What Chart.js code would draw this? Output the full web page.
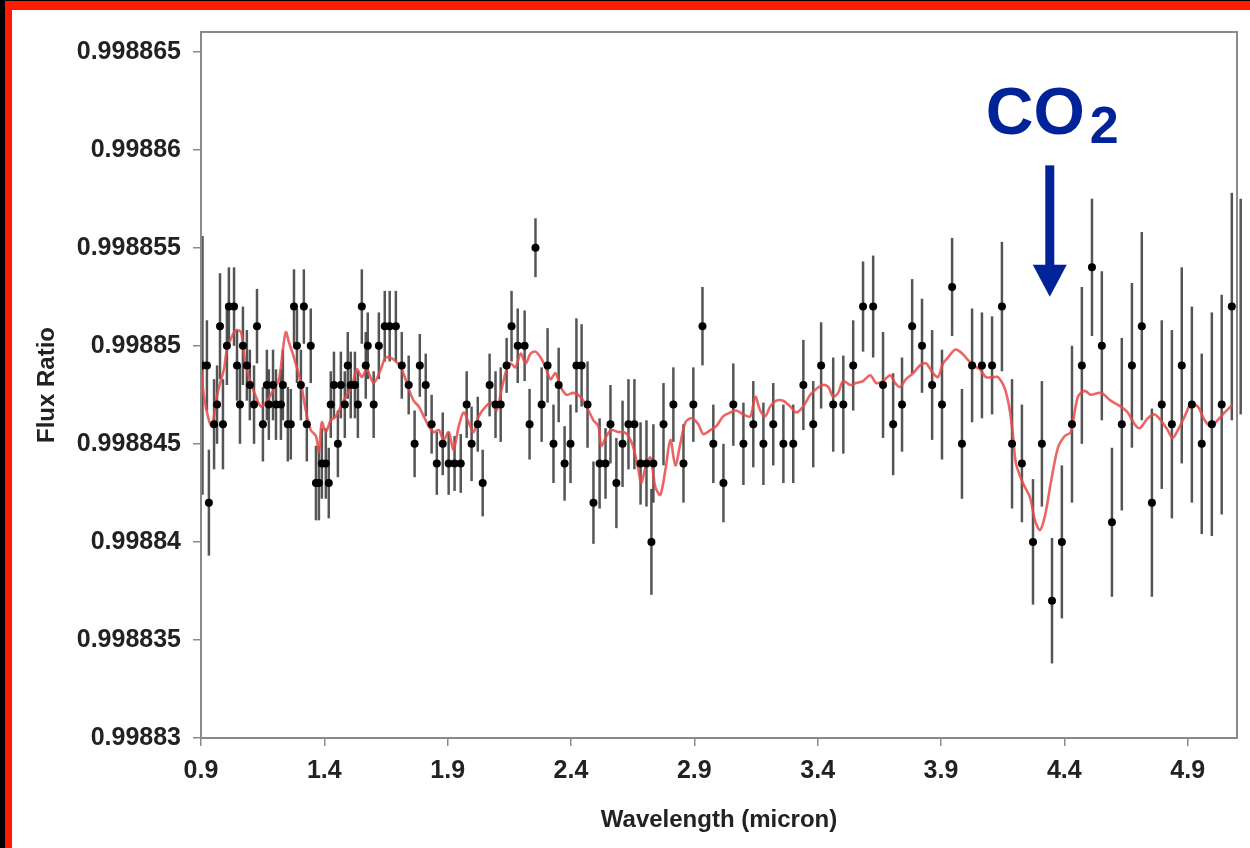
<!DOCTYPE html>
<html>
<head>
<meta charset="utf-8">
<script src="https://cdn.jsdelivr.net/npm/chart.js@4.4.0/dist/chart.umd.min.js"></script>
<style>
  html, body { margin: 0; padding: 0; background: #000; }
  #frame { position: absolute; left: 5px; top: 1px; width: 1245px; height: 847px; background: #fff;
           border-top: 9px solid #ff1a00; border-left: 7px solid #ff1a00; box-sizing: border-box; }
  #wrap { position: absolute; left: 0; top: 0; width: 1250px; height: 848px; }
</style>
</head>
<body>
<div id="frame"></div>
<div id="wrap"><canvas id="chart-1" width="1250" height="848"></canvas></div>
<script>
// measured points (micron, flux ratio, 1-sigma error in ppm)
const wavelength = [
  0.906, 0.924, 0.932, 0.953, 0.965, 0.977, 0.989, 1.005, 1.013, 1.034,
  1.046, 1.058, 1.070, 1.086, 1.098, 1.115, 1.127, 1.151, 1.167, 1.175,
  1.192, 1.204, 1.224, 1.232, 1.252, 1.264, 1.277, 1.289, 1.305, 1.317,
  1.329, 1.345, 1.366, 1.378, 1.390, 1.406, 1.418, 1.426, 1.439, 1.455,
  1.467, 1.483, 1.495, 1.507, 1.524, 1.536, 1.552, 1.568, 1.576, 1.600,
  1.621, 1.645, 1.665, 1.690, 1.714,
  1.742, 1.766, 1.787, 1.811, 1.835, 1.856, 1.880, 1.904, 1.928, 1.953,
  1.977, 1.997, 2.022, 2.042, 2.070, 2.094, 2.115, 2.139, 2.159, 2.184,
  2.212, 2.232, 2.256, 2.281, 2.305, 2.329, 2.350, 2.374, 2.398, 2.422,
  2.443, 2.467, 2.491, 2.516, 2.540, 2.560,
  2.584, 2.609, 2.633, 2.657, 2.682, 2.706, 2.726, 2.734, 2.775, 2.815,
  2.856, 2.896, 2.933, 2.977, 3.018, 3.058, 3.099, 3.139, 3.180, 3.220,
  3.261, 3.301, 3.342, 3.382, 3.414,
  3.463, 3.504, 3.544, 3.584, 3.625, 3.665, 3.706, 3.742, 3.783, 3.823,
  3.864, 3.904, 3.945, 3.985, 4.026, 4.066, 4.107, 4.147, 4.188, 4.228,
  4.273, 4.309, 4.350, 4.390, 4.431, 4.471, 4.512, 4.552, 4.593, 4.633,
  4.674, 4.714, 4.755, 4.795, 4.836, 4.876, 4.917, 4.957, 4.998, 5.038,
  5.079, 5.115
];
const fluxRatio = [
  0.998849, 0.998849, 0.998842, 0.998846, 0.998847, 0.998851, 0.998846, 0.998850, 0.998852, 0.998852,
  0.998849, 0.998847, 0.998850, 0.998849, 0.998848, 0.998847, 0.998851, 0.998846, 0.998848, 0.998847,
  0.998848, 0.998847, 0.998847, 0.998848, 0.998846, 0.998846, 0.998852, 0.998850, 0.998848, 0.998852,
  0.998846, 0.998850, 0.998843, 0.998843, 0.998844, 0.998844, 0.998843, 0.998847, 0.998848, 0.998845,
  0.998848, 0.998847, 0.998849, 0.998848, 0.998848, 0.998847, 0.998852, 0.998849, 0.998850, 0.998847,
  0.998850, 0.998851, 0.998851, 0.998851, 0.998849,
  0.998848, 0.998845, 0.998849, 0.998848, 0.998846, 0.998844, 0.998845, 0.998844, 0.998844, 0.998844,
  0.998847, 0.998845, 0.998846, 0.998843, 0.998848, 0.998847, 0.998847, 0.998849, 0.998851, 0.998850,
  0.998850, 0.998846, 0.998855, 0.998847, 0.998849, 0.998845, 0.998848, 0.998844, 0.998845, 0.998849,
  0.998849, 0.998847, 0.998842, 0.998844, 0.998844, 0.998846,
  0.998843, 0.998845, 0.998846, 0.998846, 0.998844, 0.998844, 0.998840, 0.998844, 0.998846, 0.998847,
  0.998844, 0.998847, 0.998851, 0.998845, 0.998843, 0.998847, 0.998845, 0.998846, 0.998845, 0.998846,
  0.998845, 0.998845, 0.998848, 0.998846, 0.998849,
  0.998847, 0.998847, 0.998849, 0.998852, 0.998852, 0.998848, 0.998846, 0.998847, 0.998851, 0.998850,
  0.998848, 0.998847, 0.998853, 0.998845, 0.998849, 0.998849, 0.998849, 0.998852, 0.998845, 0.998844,
  0.998840, 0.998845, 0.998837, 0.998840, 0.998846, 0.998849, 0.998854, 0.998850, 0.998841, 0.998846,
  0.998849, 0.998851, 0.998842, 0.998847, 0.998846, 0.998849, 0.998847, 0.998845, 0.998846, 0.998847,
  0.998852, 0.998852
];
const fluxErrorPpm = [
  6.6, 2.3, 2.7, 2.3, 2.0, 2.7, 2.3, 2.0, 2.0, 2.0,
  1.8, 2.0, 2.0, 1.8, 1.8, 2.0, 1.9, 1.9, 1.8, 1.8,
  1.8, 1.8, 1.8, 1.8, 1.9, 1.8, 1.9, 1.9, 1.8, 1.9,
  1.9, 1.9, 1.9, 1.9, 1.8, 1.8, 1.8, 1.7, 1.7, 1.7,
  1.7, 1.7, 1.7, 1.7, 1.7, 1.7, 1.9, 1.7, 1.7, 1.7,
  1.7, 1.8, 1.8, 1.8, 1.7,
  1.5, 1.7, 1.6, 1.6, 1.5, 1.6, 1.6, 1.6, 1.4, 1.5,
  1.7, 1.9, 1.4, 1.7, 1.6, 1.7, 1.9, 1.4, 1.8, 1.9,
  1.8, 1.8, 1.5, 1.9, 1.9, 2.0, 1.9, 1.9, 2.0, 2.4,
  2.1, 2.2, 2.1, 2.3, 1.8, 2.0,
  2.3, 2.2, 2.3, 2.3, 2.1, 2.2, 2.7, 2.0, 2.1, 1.9,
  2.0, 1.9, 2.0, 2.0, 2.0, 2.1, 2.1, 2.2, 2.1, 2.1,
  2.0, 2.0, 2.3, 2.2, 2.2,
  2.4, 2.5, 2.3, 2.3, 2.6, 2.7, 2.6, 2.4, 2.4, 2.4,
  2.8, 2.8, 2.5, 2.8, 2.9, 2.7, 2.5, 3.3, 3.3, 3.0,
  3.2, 3.2, 3.2, 3.9, 4.0, 4.0, 3.5, 3.8, 3.8, 4.4,
  4.2, 4.8, 4.8, 4.3, 4.8, 5.0, 5.0, 4.6, 5.7, 5.6,
  5.8, 5.5
];

// model spectrum (red curve)
const modelWavelength = [
  0.900, 0.912, 0.932, 0.945, 0.961, 0.973, 0.993, 1.005, 1.026, 1.042,
  1.062, 1.074, 1.086, 1.102, 1.123, 1.143, 1.163, 1.187, 1.216, 1.232,
  1.244, 1.256, 1.277, 1.305, 1.325, 1.345, 1.366, 1.378, 1.390, 1.406,
  1.426, 1.447, 1.467, 1.491, 1.511, 1.532, 1.552, 1.572, 1.600, 1.629,
  1.649, 1.681, 1.714, 1.742, 1.762, 1.783, 1.803, 1.823, 1.843, 1.864,
  1.884, 1.904, 1.924, 1.945, 1.965, 1.985, 2.005, 2.026, 2.054, 2.078,
  2.098, 2.119, 2.139, 2.155, 2.175, 2.196, 2.216, 2.236, 2.256, 2.277,
  2.297, 2.317, 2.337, 2.358, 2.382, 2.410, 2.438, 2.463, 2.491, 2.511,
  2.523, 2.544, 2.564, 2.592, 2.613, 2.633, 2.653, 2.673, 2.685, 2.702,
  2.722, 2.742, 2.762, 2.783, 2.803, 2.823, 2.843, 2.864, 2.888, 2.916,
  2.936, 2.965, 2.989, 3.017, 3.046, 3.070, 3.098, 3.127, 3.147, 3.167,
  3.187, 3.208, 3.232, 3.260, 3.289, 3.313, 3.341, 3.370, 3.394, 3.422,
  3.443, 3.463, 3.483, 3.503, 3.532, 3.556, 3.584, 3.613, 3.637, 3.665,
  3.694, 3.714, 3.734, 3.758, 3.787, 3.815, 3.839, 3.868, 3.888, 3.908,
  3.928, 3.957, 3.977, 4.001, 4.030, 4.058, 4.082, 4.111, 4.131, 4.159,
  4.179, 4.192, 4.204, 4.232, 4.260, 4.281, 4.301, 4.321, 4.345, 4.374,
  4.402, 4.426, 4.455, 4.483, 4.507, 4.548, 4.588, 4.629, 4.657, 4.685,
  4.706, 4.738, 4.766, 4.791, 4.819, 4.839, 4.860, 4.888, 4.912, 4.941,
  4.969, 4.993, 5.021, 5.050, 5.082
];
const modelFlux = [
  0.9988488, 0.9988474, 0.9988462, 0.9988459, 0.9988472, 0.9988479, 0.9988488, 0.9988498, 0.9988505, 0.9988508,
  0.9988507, 0.9988496, 0.9988488, 0.9988481, 0.9988474, 0.9988469, 0.9988471, 0.9988476, 0.9988483, 0.9988498,
  0.9988507, 0.9988502, 0.9988494, 0.9988481, 0.9988467, 0.9988457, 0.9988454, 0.9988446, 0.9988461, 0.9988456,
  0.9988462, 0.9988464, 0.9988469, 0.9988475, 0.9988479, 0.9988488, 0.9988484, 0.9988488, 0.9988481, 0.9988488,
  0.9988494, 0.9988493, 0.9988488, 0.9988478, 0.9988472, 0.9988469, 0.9988464, 0.9988459, 0.9988456, 0.9988457,
  0.9988452, 0.9988456, 0.9988447, 0.9988459, 0.9988466, 0.9988461, 0.9988456, 0.9988464, 0.9988469, 0.9988471,
  0.9988467, 0.9988478, 0.9988488, 0.9988491, 0.9988489, 0.9988496, 0.9988491, 0.9988496, 0.9988497, 0.9988494,
  0.9988489, 0.9988483, 0.9988486, 0.9988479, 0.9988475, 0.9988476, 0.9988474, 0.9988469, 0.9988462, 0.9988459,
  0.9988449, 0.9988454, 0.9988457, 0.9988456, 0.9988456, 0.9988454, 0.9988448, 0.9988437, 0.9988430, 0.9988438,
  0.9988443, 0.9988428, 0.9988424, 0.9988437, 0.9988452, 0.9988439, 0.9988450, 0.9988461, 0.9988463, 0.9988460,
  0.9988455, 0.9988457, 0.9988459, 0.9988464, 0.9988466, 0.9988467, 0.9988465, 0.9988464, 0.9988474, 0.9988467,
  0.9988464, 0.9988469, 0.9988472, 0.9988472, 0.9988469, 0.9988466, 0.9988469, 0.9988475, 0.9988478, 0.9988480,
  0.9988479, 0.9988474, 0.9988476, 0.9988482, 0.9988480, 0.9988481, 0.9988482, 0.9988485, 0.9988481, 0.9988482,
  0.9988485, 0.9988481, 0.9988479, 0.9988483, 0.9988486, 0.9988490, 0.9988491, 0.9988486, 0.9988484, 0.9988491,
  0.9988494, 0.9988498, 0.9988497, 0.9988494, 0.9988490, 0.9988488, 0.9988484, 0.9988484, 0.9988484, 0.9988478,
  0.9988467, 0.9988454, 0.9988440, 0.9988430, 0.9988423, 0.9988411, 0.9988406, 0.9988413, 0.9988430, 0.9988448,
  0.9988454, 0.9988456, 0.9988474, 0.9988477, 0.9988475, 0.9988476, 0.9988472, 0.9988469, 0.9988466, 0.9988460,
  0.9988458, 0.9988463, 0.9988465, 0.9988462, 0.9988457, 0.9988453, 0.9988457, 0.9988464, 0.9988470, 0.9988469,
  0.9988462, 0.9988459, 0.9988462, 0.9988466, 0.9988470
];

const xTicks = [0.9, 1.4, 1.9, 2.4, 2.9, 3.4, 3.9, 4.4, 4.9];
const yTicks = [0.99883, 0.998835, 0.99884, 0.998845, 0.99885, 0.998855, 0.99886, 0.998865];

// CO2 label + arrow, placed in data units
const co2Wavelength = 4.341;
const co2ArrowTop = 0.9988592;
const co2ArrowTip = 0.9988525;
const co2LabelFlux = 0.9988608;

const errorBars = {
  id: 'errorBars',
  beforeDatasetsDraw(chart) {
    const { ctx, scales: { x, y } } = chart;
    ctx.save();
    ctx.strokeStyle = 'rgba(55,55,55,0.85)';
    ctx.lineWidth = 2.5;
    wavelength.forEach((w, i) => {
      const px = x.getPixelForValue(w);
      const e = fluxErrorPpm[i] * 1e-6;
      ctx.beginPath();
      ctx.moveTo(px, y.getPixelForValue(fluxRatio[i] + e));
      ctx.lineTo(px, y.getPixelForValue(fluxRatio[i] - e));
      ctx.stroke();
    });
    ctx.restore();
  }
};

const plotBox = {
  id: 'plotBox',
  afterDraw(chart) {
    const { ctx, chartArea: a, scales: { x, y } } = chart;
    ctx.save();
    ctx.strokeStyle = '#8a8a8a';
    ctx.lineWidth = 2;
    ctx.strokeRect(a.left, a.top, a.right - a.left, a.bottom - a.top);

    // CO2 annotation
    const blue = '#00239a';
    const ax = x.getPixelForValue(co2Wavelength);
    const top = y.getPixelForValue(co2ArrowTop);
    const tip = y.getPixelForValue(co2ArrowTip);
    ctx.fillStyle = blue;
    ctx.fillRect(ax - 4.5, top, 9, tip - top - 28);
    ctx.beginPath();
    ctx.moveTo(ax - 17, tip - 32);
    ctx.lineTo(ax + 17, tip - 32);
    ctx.lineTo(ax, tip);
    ctx.closePath();
    ctx.fill();

    const ly = y.getPixelForValue(co2LabelFlux);
    ctx.font = 'bold 66px "Liberation Sans", Arial, sans-serif';
    ctx.textBaseline = 'alphabetic';
    ctx.textAlign = 'left';
    ctx.fillText('CO', ax - 64, ly);
    const coW = ctx.measureText('CO').width;
    ctx.font = 'bold 52px "Liberation Sans", Arial, sans-serif';
    ctx.fillText('2', ax - 64 + coW + 5, ly + 9);
    ctx.restore();
  }
};

const ctx1 = document.getElementById('chart-1').getContext('2d');
const myChart = new Chart(ctx1, {
  type: 'scatter',
  data: {
    datasets: [{
      label: 'Data',
      data: wavelength.map((w, i) => ({ x: w, y: fluxRatio[i] })),
      backgroundColor: '#000',
      borderColor: '#000',
      pointRadius: 4,
      pointBorderWidth: 0,
      order: 0,
    }, {
      type: 'line',
      label: 'Model',
      data: modelWavelength.map((w, i) => ({ x: w, y: modelFlux[i] })),
      borderColor: 'rgba(232,74,74,0.85)',
      borderWidth: 2.6,
      pointRadius: 0,
      tension: 0.3,
      fill: false,
      order: 1,
    }],
  },
  options: {
    responsive: false,
    animation: false,
    devicePixelRatio: 1,
    layout: { padding: { left: 0, top: 32, right: 13, bottom: 0 } },
    plugins: {
      legend: { display: false },
      tooltip: { enabled: false },
    },
    scales: {
      x: {
        type: 'linear',
        min: 0.9,
        max: 5.1,
        afterBuildTicks: (s) => { s.ticks = xTicks.map(v => ({ value: v })); },
        afterFit: (s) => { s.height = 110; },
        border: { display: false },
        grid: { drawOnChartArea: false, drawTicks: true, tickLength: 8, color: '#8a8a8a', lineWidth: 1.5 },
        ticks: {
          padding: 10,
          color: '#222',
          font: { family: '"Liberation Sans", Arial, sans-serif', size: 25, weight: 'bold' },
          callback: (v) => Number(v).toFixed(1),
        },
        title: {
          display: true,
          text: 'Wavelength (micron)',
          color: '#222',
          font: { family: '"Liberation Sans", Arial, sans-serif', size: 24, weight: 'bold' },
          padding: { top: 0, bottom: 13 },
        },
      },
      y: {
        min: 0.99883,
        max: 0.998866,
        afterBuildTicks: (s) => { s.ticks = yTicks.map(v => ({ value: v })); },
        afterFit: (s) => { s.width = 201; },
        border: { display: false },
        grid: { drawOnChartArea: false, drawTicks: true, tickLength: 8, color: '#8a8a8a', lineWidth: 1.5 },
        ticks: {
          padding: 12,
          color: '#222',
          font: { family: '"Liberation Sans", Arial, sans-serif', size: 25, weight: 'bold' },
          callback: (v) => String(Number(Number(v).toFixed(6))),
        },
        title: {
          display: true,
          text: 'Flux Ratio',
          color: '#222',
          font: { family: '"Liberation Sans", Arial, sans-serif', size: 24, weight: 'bold' },
          padding: { top: 33, bottom: 0 },
        },
      },
    },
  },
  plugins: [errorBars, plotBox],
});
</script>
</body>
</html>
